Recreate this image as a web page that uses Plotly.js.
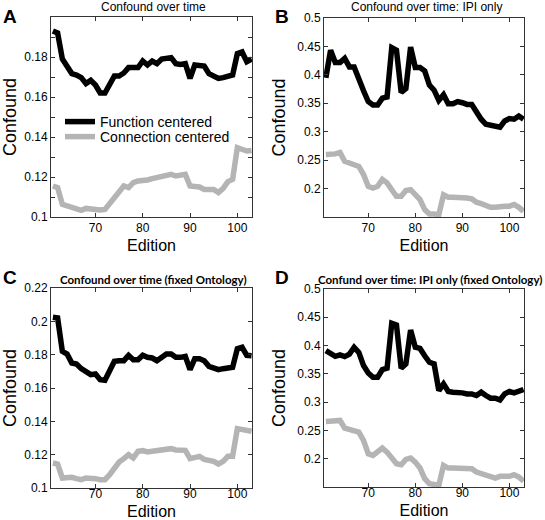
<!DOCTYPE html>
<html>
<head>
<meta charset="utf-8">
<script src="https://cdn.plot.ly/plotly-3.0.1.min.js"></script>
<style>html,body{margin:0;padding:0;background:#fff;}#chart{width:545px;height:520px;}</style>
</head>
<body>
<div id="chart"></div>
<script>
// ---- data ----
var editions = [61,62,63,64,65,66,67,68,69,70,71,72,73,74,75,76,77,78,79,80,81,82,83,84,85,86,87,88,89,90,91,92,93,94,95,96,97,98,99,100,101,102,103];

var fnA = [0.193,0.192,0.179,0.1755,0.1717,0.171,0.1697,0.1667,0.1683,0.166,0.162,0.162,0.166,0.1705,0.1705,0.172,0.1747,0.1747,0.1747,0.178,0.176,0.178,0.1767,0.179,0.1797,0.1797,0.1767,0.1763,0.1767,0.1693,0.176,0.176,0.1755,0.1717,0.1705,0.1693,0.1697,0.1705,0.171,0.1817,0.1825,0.1777,0.179];
var connA = [0.1155,0.1147,0.1063,0.1055,0.105,0.1038,0.1033,0.1043,0.1038,0.1035,0.1035,0.1038,0.1067,0.1105,0.1133,0.1155,0.1147,0.1172,0.118,0.118,0.1185,0.1192,0.1197,0.1203,0.1208,0.1213,0.1205,0.1208,0.1213,0.1155,0.1155,0.115,0.1138,0.1138,0.1138,0.1122,0.1143,0.1177,0.1188,0.1347,0.1338,0.133,0.1333];

var fnB = [0.395,0.4435,0.4216,0.4216,0.429,0.414,0.414,0.3905,0.372,0.353,0.347,0.347,0.359,0.361,0.448,0.4435,0.369,0.376,0.449,0.413,0.413,0.407,0.382,0.373,0.355,0.365,0.349,0.349,0.353,0.351,0.348,0.348,0.3335,0.322,0.313,0.311,0.311,0.308,0.319,0.323,0.322,0.3275,0.322];
var connB = [0.26,0.26,0.261,0.2635,0.248,0.245,0.241,0.239,0.2247,0.204,0.201,0.204,0.216,0.21,0.198,0.1865,0.1865,0.1965,0.198,0.1894,0.1806,0.163,0.1553,0.1553,0.154,0.189,0.1847,0.1847,0.1847,0.1847,0.1835,0.1818,0.176,0.1735,0.17,0.167,0.167,0.169,0.169,0.169,0.172,0.167,0.16];

var fnC = [0.2024,0.202,0.182,0.1804,0.175,0.1744,0.1716,0.1696,0.168,0.1684,0.165,0.1646,0.17,0.176,0.1764,0.1764,0.1796,0.177,0.177,0.1796,0.1784,0.178,0.1764,0.1784,0.1804,0.1804,0.1784,0.1784,0.179,0.171,0.1776,0.1776,0.1764,0.173,0.1716,0.171,0.1716,0.1724,0.1724,0.1836,0.1844,0.1796,0.1794];
var connC = [0.115,0.1144,0.106,0.1064,0.1064,0.1056,0.105,0.106,0.106,0.1056,0.105,0.105,0.108,0.112,0.1156,0.1176,0.12,0.118,0.122,0.1224,0.1216,0.122,0.1224,0.1226,0.1234,0.1236,0.1228,0.1226,0.1226,0.1176,0.118,0.119,0.1172,0.117,0.116,0.1144,0.116,0.119,0.119,0.1356,0.1348,0.134,0.134];

var fnD = [0.391,0.385,0.381,0.3835,0.3805,0.385,0.397,0.388,0.3646,0.3517,0.344,0.344,0.3576,0.36,0.4393,0.4364,0.36,0.3676,0.4275,0.397,0.395,0.382,0.3705,0.3676,0.3205,0.3323,0.3188,0.3176,0.3176,0.3164,0.3146,0.3146,0.3117,0.3176,0.3117,0.307,0.307,0.304,0.3146,0.3188,0.3164,0.3188,0.3223];
var connD = [0.2658,0.2658,0.2658,0.2676,0.254,0.251,0.248,0.247,0.2323,0.2088,0.2059,0.2117,0.2188,0.2117,0.2,0.1912,0.1894,0.1988,0.2012,0.1941,0.1835,0.1647,0.1559,0.1541,0.153,0.1882,0.1835,0.1835,0.1835,0.1835,0.1835,0.1823,0.1765,0.1735,0.1694,0.1665,0.1659,0.1688,0.1688,0.1688,0.1718,0.1676,0.16];

var seriesNames = ['Function centered', 'Connection centered'];
var xTickVals = [70, 80, 90, 100];
var yTickValsA = [0.1,0.11,0.12,0.13,0.14,0.15,0.16,0.17,0.18,0.19];
var yTickTextA = ['0.1','','0.12','','0.14','','0.16','','0.18',''];
var yTickValsB = [0.2,0.25,0.3,0.35,0.4,0.45,0.5];
var yTickTextB = ['0.2','0.25','0.3','0.35','0.4','0.45','0.5'];
var yTickValsC = [0.1,0.12,0.14,0.16,0.18,0.2,0.22];
var yTickTextC = ['0.1','0.12','0.14','0.16','0.18','0.2','0.22'];
var titles = ['Confound over time', 'Confound over time: IPI only', 'Confound over time (fixed Ontology)', 'Confund over time: IPI only (fixed Ontology)'];
var panelLetters = ['A','B','C','D'];

// ---- styling / layout ----
var W = 545, H = 520;
var FONT = 'Liberation Sans, Arial, sans-serif';
var BLACK = '#000000', GRAY = '#b4b4b4';
function px(x){ return x / W; }
function py(y){ return 1 - y / H; }

var panels = [
  {fn: fnA, conn: connA, x0: 51, x1: 252, y0: 17, y1: 217, yr: [0.1, 0.2], tv: yTickValsA, tt: yTickTextA, xls: 0},
  {fn: fnB, conn: connB, x0: 324, x1: 524, y0: 18, y1: 217, yr: [0.15, 0.5], tv: yTickValsB, tt: yTickTextB, xls: 0},
  {fn: fnC, conn: connC, x0: 51, x1: 252, y0: 288, y1: 488, yr: [0.1, 0.22], tv: yTickValsC, tt: yTickTextC, xls: -5},
  {fn: fnD, conn: connD, x0: 324, x1: 524, y0: 289, y1: 487, yr: [0.15, 0.5], tv: yTickValsB, tt: yTickTextB, xls: -5}
];

var legendCommon = {xanchor: 'left', yanchor: 'middle', bgcolor: 'rgba(0,0,0,0)', borderwidth: 0,
  font: {family: FONT, size: 14, color: '#000'}};

var traces = [];
var layout = {
  width: W, height: H,
  margin: {l: 0, r: 0, t: 0, b: 0},
  paper_bgcolor: '#fff', plot_bgcolor: '#fff',
  font: {family: FONT, size: 12, color: '#000'},
  showlegend: true,
  legend: Object.assign({x: px(60), y: py(122)}, legendCommon),
  legend2: Object.assign({x: px(60), y: py(137)}, legendCommon),
  annotations: []
};

panels.forEach(function(p, i){
  var n = i + 1;
  var xa = 'x' + (n === 1 ? '' : n), ya = 'y' + (n === 1 ? '' : n);
  traces.push({x: editions, y: p.conn, xaxis: xa, yaxis: ya, mode: 'lines', name: seriesNames[1],
    line: {color: GRAY, width: 5.5}, showlegend: i === 0, legend: 'legend2', hoverinfo: 'skip'});
  traces.push({x: editions, y: p.fn, xaxis: xa, yaxis: ya, mode: 'lines', name: seriesNames[0],
    line: {color: BLACK, width: 5.5}, showlegend: i === 0, legend: 'legend', hoverinfo: 'skip'});
  var axCommon = {showline: true, linecolor: '#333', linewidth: 1, mirror: 'ticks', ticks: 'inside',
    ticklen: 4, tickcolor: '#333', tickwidth: 1, showgrid: false, zeroline: false, automargin: false,
    tickfont: {family: FONT, size: 12, color: '#000'}};
  layout['xaxis' + (n === 1 ? '' : n)] = Object.assign({}, axCommon, {
    domain: [px(p.x0), px(p.x1)], anchor: ya, range: [60.6, 103.1],
    tickmode: 'array', tickvals: xTickVals, ticktext: xTickVals.map(String), ticklabelstandoff: p.xls,
    title: {text: 'Edition', font: {family: FONT, size: 16, color: '#000'}, standoff: 5}
  });
  layout['yaxis' + (n === 1 ? '' : n)] = Object.assign({}, axCommon, {
    domain: [py(p.y1), py(p.y0)], anchor: xa, range: p.yr,
    tickmode: 'array', tickvals: p.tv, ticktext: p.tt,
    title: {text: 'Confound', font: {family: FONT, size: 18, color: '#000'}, standoff: 6}
  });
  var bold = i >= 2;
  layout.annotations.push({
    xref: 'paper', yref: 'paper', x: px((p.x0 + p.x1) / 2 + (i === 3 ? 6 : 2)), y: py(bold ? 279 : 7.5),
    xanchor: 'center', yanchor: 'middle', showarrow: false, text: bold ? '<b>' + titles[i] + '</b>' : titles[i],
    font: {family: bold ? 'Lato, sans-serif' : FONT, size: bold ? 11.5 : 12, color: '#000'}
  });
  layout.annotations.push({
    xref: 'paper', yref: 'paper', x: px(i % 2 === 0 ? 1 : 273), y: py(i < 2 ? 17 : 277),
    xanchor: 'left', yanchor: 'middle', showarrow: false, text: '<b>' + panelLetters[i] + '</b>',
    font: {family: FONT, size: 19, color: '#000'}
  });
});

Plotly.newPlot('chart', traces, layout, {staticPlot: true, displayModeBar: false});
</script>
</body>
</html>
